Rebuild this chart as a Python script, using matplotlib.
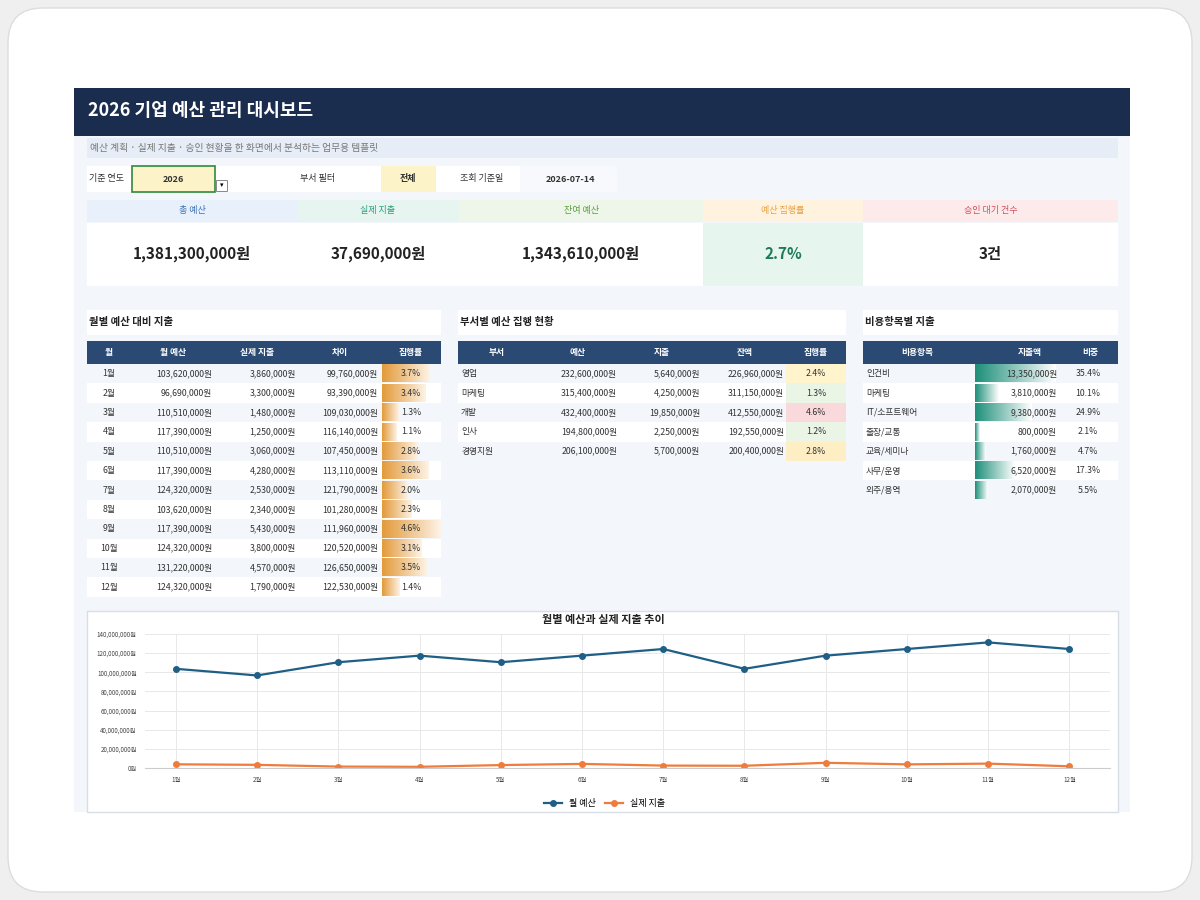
import numpy as np
import matplotlib.pyplot as plt
from matplotlib.patches import Rectangle, FancyBboxPatch
from matplotlib.colors import LinearSegmentedColormap

plt.rcParams['font.family'] = ['Noto Sans CJK KR', 'DejaVu Sans']

# 데이터
months = ['1월', '2월', '3월', '4월', '5월', '6월', '7월', '8월', '9월', '10월', '11월', '12월']
month_budget = [103620000, 96690000, 110510000, 117390000, 110510000, 117390000,
                124320000, 103620000, 117390000, 124320000, 131220000, 124320000]
month_actual = [3860000, 3300000, 1480000, 1250000, 3060000, 4280000,
                2530000, 2340000, 5430000, 3800000, 4570000, 1790000]
month_diff = [99760000, 93390000, 109030000, 116140000, 107450000, 113110000,
              121790000, 101280000, 111960000, 120520000, 126650000, 122530000]
month_rate = [3.7, 3.4, 1.3, 1.1, 2.8, 3.6, 2.0, 2.3, 4.6, 3.1, 3.5, 1.4]

depts = ['영업', '마케팅', '개발', '인사', '경영지원']
dept_budget = [232600000, 315400000, 432400000, 194800000, 206100000]
dept_spend = [5640000, 4250000, 19850000, 2250000, 5700000]
dept_remain = [226960000, 311150000, 412550000, 192550000, 200400000]
dept_rate = [2.4, 1.3, 4.6, 1.2, 2.8]
dept_rate_color = ['#fff4cc', '#eaf5e6', '#f9d9dc', '#eaf5e6', '#fdeec4']

items = ['인건비', '마케팅', 'IT/소프트웨어', '출장/교통', '교육/세미나', '사무/운영', '외주/용역']
item_spend = [13350000, 3810000, 9380000, 800000, 1760000, 6520000, 2070000]
item_share = [35.4, 10.1, 24.9, 2.1, 4.7, 17.3, 5.5]

kpi_labels = ['총 예산', '실제 지출', '잔여 예산', '예산 집행률', '승인 대기 건수']
kpi_values = ['1,381,300,000원', '37,690,000원', '1,343,610,000원', '2.7%', '3건']

NAVY = '#1b2d4f'
HEAD = '#2a4a73'
TXT = '#333333'

fig = plt.figure(figsize=(12, 9), dpi=100)
fig.patch.set_facecolor('#efefef')
ax = fig.add_axes([0, 0, 1, 1])
ax.set_xlim(0, 1200)
ax.set_ylim(900, 0)
ax.axis('off')


def box(x0, y0, x1, y1, fc, ec='none', lw=0, z=1):
    ax.add_patch(Rectangle((x0, y0), x1 - x0, y1 - y0, facecolor=fc, edgecolor=ec, linewidth=lw, zorder=z))


def won(v):
    return f'{v:,}원'


ax.add_patch(FancyBboxPatch((8, 8), 1184, 884, boxstyle='round,pad=0,rounding_size=35',
                            facecolor='white', edgecolor='#dddddd', linewidth=1, zorder=0))
box(74, 88, 1130, 812, '#f3f6fb')

# 헤더
box(74, 88, 1130, 136, NAVY)
ax.text(88, 111, '2026 기업 예산 관리 대시보드', color='white', fontsize=13, fontweight='bold', va='center', zorder=3)
box(87, 138, 1118, 158, '#e6edf7')
ax.text(90, 148, '예산 계획 · 실제 지출 · 승인 현황을 한 화면에서 분석하는 업무용 템플릿',
        color='#777777', fontsize=7, style='italic', va='center', zorder=3)

# 필터
box(87, 166, 617, 192, 'white')
ax.text(89, 179, '기준 연도', fontsize=6.5, color=TXT, va='center', zorder=3)
box(132, 166, 215, 192, '#fdf3c8', ec='#2e8b3e', lw=1.2, z=2)
ax.text(173, 179, '2026', fontsize=6.5, fontweight='bold', color=TXT, ha='center', va='center', zorder=3)
box(216, 180, 227, 191, 'white', ec='#888888', lw=0.7, z=2)
ax.text(221.5, 185.5, '▾', fontsize=5, ha='center', va='center', zorder=3)
ax.text(300, 179, '부서 필터', fontsize=6.5, color=TXT, va='center', zorder=3)
box(381, 166, 436, 192, '#fdf3c8', z=2)
ax.text(408, 179, '전체', fontsize=6.5, fontweight='bold', color=TXT, ha='center', va='center', zorder=3)
ax.text(460, 179, '조회 기준일', fontsize=6.5, color=TXT, va='center', zorder=3)
box(520, 166, 617, 192, '#f7f9fc', z=2)
ax.text(570, 179, '2026-07-14', fontsize=6.5, fontweight='bold', color=TXT, ha='center', va='center', zorder=3)

# KPI
kpi_x = [87, 297, 459, 703, 863, 1118]
kpi_head_bg = ['#e8f0fb', '#e6f5ef', '#edf6e9', '#fff2df', '#fdeaea']
kpi_head_fg = ['#3a6fb5', '#2a9d7f', '#5a9e3a', '#e8a040', '#d05060']
for i in range(5):
    x0, x1 = kpi_x[i], kpi_x[i + 1]
    box(x0, 200, x1, 222, kpi_head_bg[i])
    box(x0, 223, x1, 286, '#e6f5ee' if i == 3 else 'white')
    ax.text((x0 + x1) / 2, 211, kpi_labels[i], color=kpi_head_fg[i], fontsize=6.5, ha='center', va='center', zorder=3)
    ax.text((x0 + x1) / 2, 254, kpi_values[i], color='#1e7a5a' if i == 3 else '#222222',
            fontsize=11, fontweight='bold', ha='center', va='center', zorder=3)

# 섹션 제목
for x0, x1, t in [(87, 441, '월별 예산 대비 지출'), (458, 846, '부서별 예산 집행 현황'), (863, 1118, '비용항목별 지출')]:
    box(x0, 310, x1, 335, 'white')
    ax.text(x0 + 2, 322, t, fontsize=7.5, fontweight='bold', color='#222222', va='center', zorder=3)

ROW = 19.4
HY0, HY1 = 341, 364
orange_cmap = LinearSegmentedColormap.from_list('o', ['#e39a3a', '#fdf3e6'])
teal_cmap = LinearSegmentedColormap.from_list('t', ['#1e8f7a', '#ffffff'])
grad = np.linspace(0, 1, 100).reshape(1, -1)


def header(x0, x1, cols):
    box(x0, HY0, x1, HY1, HEAD)
    for cx, t in cols:
        ax.text(cx, (HY0 + HY1) / 2, t, color='white', fontsize=6.3, fontweight='bold', ha='center', va='center', zorder=3)


def cell(x, y, t, ha='right'):
    ax.text(x, y, t, fontsize=6.3, color=TXT, ha=ha, va='center', zorder=3)


def row_bg(i):
    return '#f3f6fb' if i % 2 == 0 else 'white'


# 월별 표
header(87, 441, [(109, '월'), (173, '월 예산'), (257, '실제 지출'), (340, '차이'), (411, '집행률')])
for i, m in enumerate(months):
    y0 = HY1 + i * ROW
    yc = y0 + ROW / 2
    box(87, y0, 441, y0 + ROW, row_bg(i))
    cell(109, yc, m, 'center')
    cell(212, yc, won(month_budget[i]))
    cell(296, yc, won(month_actual[i]))
    cell(378, yc, won(month_diff[i]))
    w = month_rate[i] / 4.6 * 59
    ax.imshow(grad, cmap=orange_cmap, aspect='auto', extent=(382, 382 + w, y0 + ROW - 1, y0 + 1), zorder=2)
    cell(411, yc, f'{month_rate[i]:.1f}%', 'center')

# 부서별 표
header(458, 846, [(497, '부서'), (578, '예산'), (662, '지출'), (745, '잔액'), (816, '집행률')])
for i, d in enumerate(depts):
    y0 = HY1 + i * ROW
    yc = y0 + ROW / 2
    box(458, y0, 846, y0 + ROW, row_bg(i))
    box(786, y0, 846, y0 + ROW, dept_rate_color[i], z=2)
    cell(461, yc, d, 'left')
    cell(617, yc, won(dept_budget[i]))
    cell(700, yc, won(dept_spend[i]))
    cell(784, yc, won(dept_remain[i]))
    cell(816, yc, f'{dept_rate[i]:.1f}%', 'center')

# 비용항목 표
header(863, 1118, [(917, '비용항목'), (1030, '지출액'), (1090, '비중')])
for i, it in enumerate(items):
    y0 = HY1 + i * ROW
    yc = y0 + ROW / 2
    box(863, y0, 1118, y0 + ROW, row_bg(i))
    w = item_spend[i] / max(item_spend) * 81
    ax.imshow(grad, cmap=teal_cmap, aspect='auto', extent=(975, 975 + w, y0 + ROW - 1, y0 + 1), zorder=2)
    cell(866, yc, it, 'left')
    cell(1057, yc, won(item_spend[i]))
    cell(1088, yc, f'{item_share[i]:.1f}%', 'center')

# 추이 차트
box(87, 611, 1118, 812, 'white', ec='#d9dee6', lw=1)
ax.text(603, 620, '월별 예산과 실제 지출 추이', fontsize=8, fontweight='bold', color='#222222', ha='center', va='center', zorder=3)

cax = fig.add_axes([145 / 1200, (900 - 768) / 900, (1110 - 145) / 1200, (768 - 634) / 900])
cax.set_facecolor('white')
xs = np.arange(1, 13)
cax.plot(xs, month_budget, color='#1f5f86', marker='o', markersize=4, linewidth=1.6, label='월 예산')
cax.plot(xs, month_actual, color='#ef7b3c', marker='o', markersize=4, linewidth=1.6, label='실제 지출')
cax.set_xlim(0.62, 12.5)
cax.set_ylim(0, 140000000)
cax.set_yticks(np.arange(0, 140000001, 20000000))
cax.set_yticklabels([f'{int(v):,}원' for v in np.arange(0, 140000001, 20000000)], fontsize=4.5, color='#444444')
cax.set_xticks(xs)
cax.set_xticklabels(months, fontsize=4.5, color='#444444')
cax.grid(True, color='#e8e8e8', linewidth=0.7)
for s in cax.spines.values():
    s.set_visible(False)
cax.spines['bottom'].set_visible(True)
cax.spines['bottom'].set_color('#cccccc')
cax.tick_params(length=0, pad=6)
cax.legend(loc='upper center', bbox_to_anchor=(0.476, -0.17), ncol=2, frameon=False, fontsize=6.5,
           handlelength=2, columnspacing=1)

fig.savefig('out.png', dpi=100, facecolor=fig.get_facecolor())
